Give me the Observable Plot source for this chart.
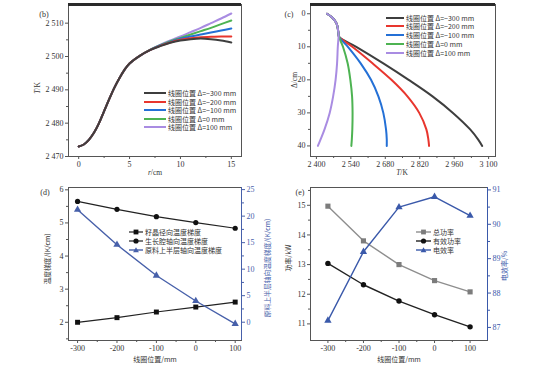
<!DOCTYPE html>
<html><head><meta charset="utf-8">
<script src="https://cdn.jsdelivr.net/npm/d3@7"></script>
<script src="https://cdn.jsdelivr.net/npm/@observablehq/plot@0.6"></script>
<style>
body{margin:0;background:#fff}
#root{position:relative;width:548px;height:368px;overflow:hidden;background:#fff;font-family:"Noto Sans CJK SC",sans-serif;color:#333}
.t{position:absolute;white-space:nowrap;line-height:1;transform:translate(-50%,-50%)}
.num{font-family:"Liberation Serif",serif}
.rot{transform:translate(-50%,-50%) rotate(-90deg)}
</style>
</head><body><div id="root"></div>
<script>
// ---------- DATA ----------
// (b) T vs r
const rCm = [0,0.5,1,1.5,2,2.5,3,3.5,4,4.5,5,6,7,8,9,10,11,12,13,14,15];
const bT_m300 = [2473.0,2473.6,2475.0,2477.1,2480.0,2483.6,2487.2,2490.6,2493.5,2496.0,2497.9,2500.2,2501.9,2503.1,2504.1,2504.8,2505.2,2505.4,2505.2,2504.8,2504.2];
const bT_m200 = [2473.0,2473.6,2475.0,2477.1,2480.0,2483.6,2487.2,2490.6,2493.5,2496.0,2497.9,2500.2,2501.9,2503.2,2504.2,2505.0,2505.5,2505.8,2505.9,2506.0,2506.0];
const bT_m100 = [2473.0,2473.6,2475.0,2477.1,2480.0,2483.6,2487.2,2490.6,2493.5,2496.0,2497.9,2500.2,2501.9,2503.3,2504.4,2505.3,2506.0,2506.6,2507.2,2507.8,2508.4];
const bT_0    = [2473.0,2473.6,2475.0,2477.1,2480.0,2483.6,2487.2,2490.6,2493.5,2496.0,2497.9,2500.2,2502.0,2503.4,2504.6,2505.6,2506.6,2507.6,2508.6,2509.7,2510.8];
const bT_100  = [2473.0,2473.6,2475.0,2477.1,2480.0,2483.6,2487.2,2490.6,2493.5,2496.0,2497.9,2500.2,2502.0,2503.5,2504.8,2506.0,2507.3,2508.6,2510.0,2511.4,2512.9];
// (c) depth vs T
const dCm = [0,1,2,3,4,5,6,7,10,15,20,25,30,35,38,40];
const cT_m300 = [2443,2462,2474,2482,2486,2488,2490,2492,2562,2672,2775,2872,2955,3025,3057,3074];
const cT_m200 = [2443,2462,2474,2482,2486,2488,2490,2492,2546,2628,2705,2770,2818,2847,2855,2858];
const cT_m100 = [2443,2462,2474,2482,2486,2488,2490,2492,2528,2580,2622,2652,2672,2683,2686,2686];
const cT_0    = [2443,2462,2474,2482,2486,2488,2490,2492,2508,2527,2538,2545,2547,2546,2544,2542];
const cT_100  = [2443,2462,2474,2482,2486,2488,2490,2490,2487,2484,2478,2468,2454,2433,2417,2406];
const seriesNames = ["线圈位置 Δ=−300 mm","线圈位置 Δ=−200 mm","线圈位置 Δ=−100 mm","线圈位置 Δ=0 mm","线圈位置 Δ=100 mm"];
const seriesColors = ["#3e3e3e","#e8362e","#2470d6","#4db352","#a98ce2"];
// (d) gradients vs coil position
const coilPos = [-300,-200,-100,0,100];
const seedRadialGrad = [2.00,2.14,2.31,2.46,2.61];
const chamberAxialGrad = [5.65,5.41,5.19,5.01,4.84];
const sourceUpperAxialGrad = [21.2,14.6,8.8,4.0,-0.3];
const dNames = ["籽晶径向温度梯度","生长腔轴向温度梯度","原料上半层轴向温度梯度"];
// (e) power vs coil position
const totalPower = [14.97,13.80,13.00,12.46,12.08];
const effectivePower = [13.04,12.32,11.77,11.31,10.90];
const electricEff = [87.2,89.2,90.5,90.8,90.25];
const eNames = ["总功率","有效功率","电效率"];

// ---------- HELPERS ----------
const root = document.getElementById("root");
const fmtK = d => d3.format(",")(d).replace(/,/g, " ");
const blank = () => "";
const style = {fontFamily:"Liberation Serif", fontSize:"8px", background:"transparent", color:"#333", overflow:"visible"};
function place(el, left, top){ el.style.position="absolute"; el.style.left=left+"px"; el.style.top=top+"px"; root.appendChild(el); }
function text(str, x, y, cls, size, extra){ const d=document.createElement("div"); d.className="t "+(cls||""); d.style.left=x+"px"; d.style.top=y+"px"; d.style.fontSize=(size||7)+"px"; if(extra) d.style.cssText+=extra; d.innerHTML=str; root.appendChild(d); }
function sym(kind, cx, cy, fill){
  if(kind==="square") return `<rect x="${cx-2.4}" y="${cy-2.4}" width="4.8" height="4.8" fill="${fill}"/>`;
  if(kind==="circle") return `<circle cx="${cx}" cy="${cy}" r="2.6" fill="${fill}"/>`;
  if(kind==="triangle") return `<path d="M${cx},${cy-2.8}L${cx+2.9},${cy+2.2}L${cx-2.9},${cy+2.2}Z" fill="${fill}"/>`;
  return "";
}
function legend(x, y, dy, len, items, size){
  items.forEach((it,i)=>{
    const d=document.createElement("div");
    d.style.cssText=`position:absolute;left:${x}px;top:${y+i*dy}px;transform:translateY(-50%);display:flex;align-items:center;white-space:nowrap;font-size:${size}px;line-height:1;color:#333`;
    d.innerHTML=`<svg width="${len}" height="7" style="overflow:visible"><line x1="0" x2="${len}" y1="3.5" y2="3.5" stroke="${it.color}" stroke-width="${it.sw}"/>${sym(it.symbol,len/2,3.5,it.fill||it.color)}</svg><span style="margin-left:2px">${it.label}</span>`;
    root.appendChild(d);
  });
}
const rows = (xs, ys) => xs.map((x,i)=>({x, y: ys[i]}));

// ---------- (b) ----------
const bSeries = [bT_m300,bT_m200,bT_m100,bT_0,bT_100];
const bOrder = [4,3,2,1,0];
const plotB = Plot.plot({
  width:274, height:182, marginTop:4, marginRight:33, marginBottom:26, marginLeft:68,
  style,
  x:{domain:[-1,16]}, y:{domain:[2470,2515.6]},
  marks:[
    Plot.axisX([0,5,10,15],{tickSize:3,tickPadding:2,label:null,stroke:"#555"}),
    Plot.axisX([2.5,7.5,12.5],{tickSize:2,tickFormat:blank,label:null,stroke:"#555"}),
    Plot.axisY([2470,2480,2490,2500,2510],{tickSize:3,tickPadding:2,tickFormat:fmtK,label:null,stroke:"#555"}),
    Plot.axisY([2475,2485,2495,2505],{tickSize:2,tickFormat:blank,label:null,stroke:"#555"}),
    ...bOrder.map(k=>Plot.line(rows(rCm,bSeries[k]),{x:"x",y:"y",stroke:seriesColors[k],strokeWidth:2,curve:"catmull-rom"})),
    Plot.frame({stroke:"#555"}),
    Plot.ruleY([2515.6],{stroke:"#2a2a2a",strokeWidth:3})
  ]
});
place(plotB,0,0);

// ---------- (c) ----------
const cSeries = [cT_m300,cT_m200,cT_m100,cT_0,cT_100];
const cOrder = [0,1,2,3,4];
const plotC = Plot.plot({
  width:274, height:182, marginTop:4, marginRight:53, marginBottom:26, marginLeft:36,
  style,
  x:{domain:[2376,3128]}, y:{domain:[-2.8,43.2], reverse:true},
  marks:[
    Plot.axisX([2400,2540,2680,2820,2960,3100],{tickSize:3,tickPadding:2,tickFormat:fmtK,label:null,stroke:"#555"}),
    Plot.axisX([2470,2610,2750,2890,3030],{tickSize:2,tickFormat:blank,label:null,stroke:"#555"}),
    Plot.axisY([0,10,20,30,40],{tickSize:3,tickPadding:2,label:null,stroke:"#555"}),
    Plot.axisY([5,15,25,35],{tickSize:2,tickFormat:blank,label:null,stroke:"#555"}),
    ...cOrder.map(k=>Plot.line(rows(dCm,cSeries[k]),{x:"y",y:"x",stroke:seriesColors[k],strokeWidth:2,curve:"catmull-rom"})),
    Plot.frame({stroke:"#555"}),
    Plot.ruleY([-2.8],{stroke:"#2a2a2a",strokeWidth:3})
  ]
});
place(plotC,274,0);

// ---------- (d) ----------
const blueD = "#4760aa";
const dX = [-323,116];
const plotD = Plot.plot({
  width:274, height:186, marginTop:5, marginRight:33, marginBottom:28, marginLeft:68,
  style,
  x:{domain:dX}, y:{domain:[1.45,6.07]},
  marks:[
    Plot.axisX(coilPos,{tickSize:3,tickPadding:2,tickFormat:d=>String(d),label:null,stroke:"#555"}),
    Plot.axisX([-250,-150,-50,50],{tickSize:2,tickFormat:blank,label:null,stroke:"#555"}),
    Plot.axisY([2,3,4,5,6],{tickSize:3,tickPadding:2,label:null,stroke:"#555"}),
    Plot.axisY([1.5,2.5,3.5,4.5,5.5],{tickSize:2,tickFormat:blank,label:null,stroke:"#555"}),
    Plot.line(rows(coilPos,seedRadialGrad),{x:"x",y:"y",stroke:"#222",strokeWidth:1.2}),
    Plot.dot(rows(coilPos,seedRadialGrad),{x:"x",y:"y",symbol:"square",r:2.8,fill:"#111"}),
    Plot.line(rows(coilPos,chamberAxialGrad),{x:"x",y:"y",stroke:"#222",strokeWidth:1.2}),
    Plot.dot(rows(coilPos,chamberAxialGrad),{x:"x",y:"y",symbol:"circle",r:2.6,fill:"#111"}),
    Plot.frame({stroke:"#555"})
  ]
});
place(plotD,0,182);
const plotD2 = Plot.plot({
  width:274, height:186, marginTop:5, marginRight:33, marginBottom:28, marginLeft:68,
  style,
  x:{domain:dX, axis:null}, y:{domain:[-3.45,25.4], axis:null},
  marks:[
    Plot.axisY([0,5,10,15,20,25],{anchor:"right",tickSize:3,tickPadding:2,label:null,color:blueD}),
    Plot.axisY([2.5,7.5,12.5,17.5,22.5],{anchor:"right",tickSize:2,tickFormat:blank,label:null,color:blueD}),
    Plot.ruleX([116],{stroke:blueD}),
    Plot.line(rows(coilPos,sourceUpperAxialGrad),{x:"x",y:"y",stroke:blueD,strokeWidth:1.4}),
    Plot.dot(rows(coilPos,sourceUpperAxialGrad),{x:"x",y:"y",symbol:"triangle",r:2.7,fill:blueD})
  ]
});
place(plotD2,0,182);

// ---------- (e) ----------
const blueE = "#3a59aa";
const eX = [-349,149];
const plotE = Plot.plot({
  width:274, height:186, marginTop:5, marginRight:61, marginBottom:28, marginLeft:36,
  style,
  x:{domain:eX}, y:{domain:[10.44,15.6]},
  marks:[
    Plot.axisX(coilPos,{tickSize:3,tickPadding:2,tickFormat:d=>String(d),label:null,stroke:"#555"}),
    Plot.axisX([-250,-150,-50,50],{tickSize:2,tickFormat:blank,label:null,stroke:"#555"}),
    Plot.axisY([11,12,13,14,15],{tickSize:3,tickPadding:2,label:null,stroke:"#555"}),
    Plot.axisY([11.5,12.5,13.5,14.5,15.5],{tickSize:2,tickFormat:blank,label:null,stroke:"#555"}),
    Plot.line(rows(coilPos,totalPower),{x:"x",y:"y",stroke:"#8e8e8e",strokeWidth:1.4}),
    Plot.dot(rows(coilPos,totalPower),{x:"x",y:"y",symbol:"square",r:2.9,fill:"#7c7c7c"}),
    Plot.line(rows(coilPos,effectivePower),{x:"x",y:"y",stroke:"#222",strokeWidth:1.4}),
    Plot.dot(rows(coilPos,effectivePower),{x:"x",y:"y",symbol:"circle",r:2.7,fill:"#111"}),
    Plot.frame({stroke:"#555"})
  ]
});
place(plotE,274,182);
const plotE2 = Plot.plot({
  width:274, height:186, marginTop:5, marginRight:61, marginBottom:28, marginLeft:36,
  style,
  x:{domain:eX, axis:null}, y:{domain:[86.62,91.07], axis:null},
  marks:[
    Plot.axisY([87,88,89,90,91],{anchor:"right",tickSize:3,tickPadding:2,label:null,color:blueE}),
    Plot.axisY([87.5,88.5,89.5,90.5],{anchor:"right",tickSize:2,tickFormat:blank,label:null,color:blueE}),
    Plot.ruleX([149],{stroke:blueE}),
    Plot.line(rows(coilPos,electricEff),{x:"x",y:"y",stroke:blueE,strokeWidth:1.4}),
    Plot.dot(rows(coilPos,electricEff),{x:"x",y:"y",symbol:"triangle",r:2.7,fill:blueE})
  ]
});
place(plotE2,274,182);

// ---------- TEXT ----------
text("(b)",44,15,"num",8);
text("(c)",289,15,"num",8);
text("(d)",45,193,"num",8);
text("(e)",300,193,"num",8);
text("<i>r</i>/cm",155,173,"num",7.5);
text("<i>T</i>/K",38,88,"num rot",7.5);
text("<i>T</i>/K",402,173,"num",7.5);
text("Δ/cm",295,80,"num rot",7.5);
text("线圈位置/mm",155,359,"",7);
text("温度梯度/(K/cm)",47,259,"rot",6.8);
text("原料上半层轴向温度梯度/(K/cm)",266.5,268,"rot",6.8,"color:"+blueD);
text("线圈位置/mm",399,359,"",7);
text("功率/kW",287.5,258,"rot",7);
text("电效率/%",504,266,"rot",7,"color:"+blueE);

const lineItems = seriesNames.map((n,i)=>({label:n,color:seriesColors[i],sw:2}));
legend(144,93,8.5,22,lineItems,7);
legend(386,17.7,8.7,18,lineItems,7);
legend(129,232.3,8.9,14,[
  {label:dNames[0],color:"#222",sw:1.2,symbol:"square",fill:"#111"},
  {label:dNames[1],color:"#222",sw:1.2,symbol:"circle",fill:"#111"},
  {label:dNames[2],color:blueD,sw:1.4,symbol:"triangle",fill:blueD}],7);
legend(416,231.7,9.3,15,[
  {label:eNames[0],color:"#8e8e8e",sw:1.4,symbol:"square",fill:"#7c7c7c"},
  {label:eNames[1],color:"#222",sw:1.4,symbol:"circle",fill:"#111"},
  {label:eNames[2],color:blueE,sw:1.4,symbol:"triangle",fill:blueE}],7);
</script>
</body></html>
